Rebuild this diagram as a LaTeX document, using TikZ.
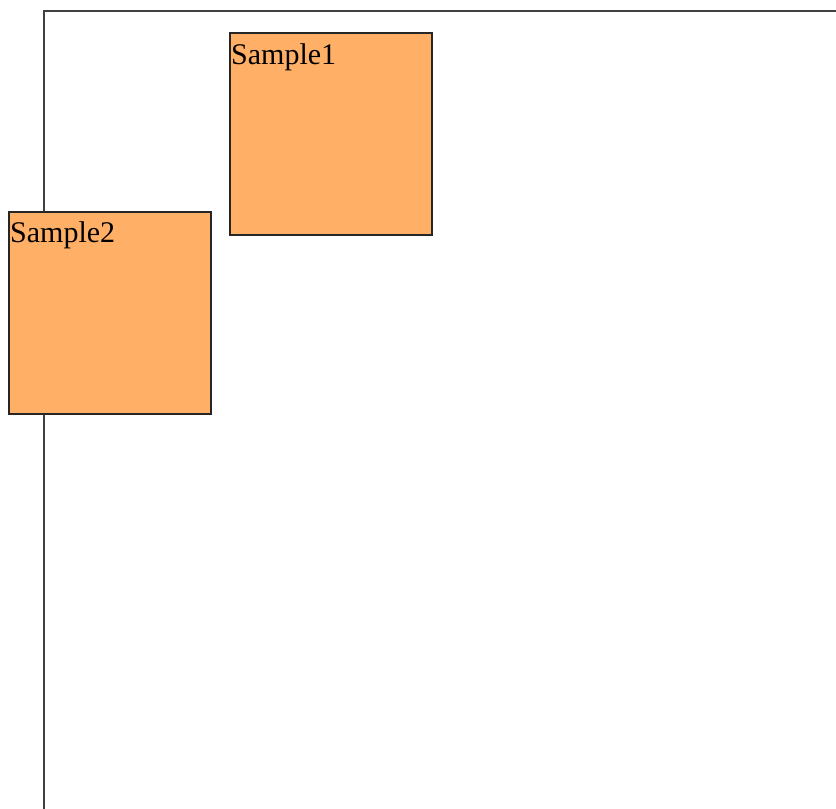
\documentclass[tikz,border=0pt]{standalone}
\usepackage{fontspec}
\setmainfont{Liberation Serif}
\usetikzlibrary{positioning}
\definecolor{SampleOrange}{HTML}{FFB066}
\definecolor{FrameGray}{HTML}{404040}

\begin{document}
\begin{tikzpicture}[x=1pt, y=-1pt,
        box/.style={rectangle, draw=black!85, line width=1.7pt, fill=SampleOrange, minimum width=202pt, minimum height=202pt, inner sep=0pt, anchor=north west},
        tag/.style={inner sep=0pt, anchor=base west, font=\fontsize{30}{32}\selectfont}]
        \useasboundingbox (0,0) rectangle (836,809);
        \coordinate (f1) at (44,809);
        \coordinate (f2) at (44,11);
        \coordinate (f3) at (836,11);
        \draw[FrameGray, line width=2.2pt] (f1) -- (f2) -- (f3);
        \node[box] (s1) at (229,32) {};
        \node[box] (s2) at (8,211) {};
        \node[tag] (t1) at ([shift={(2,32)}]s1.north west) {Sample1};
        \node[tag] (t2) at ([shift={(2,31)}]s2.north west) {Sample2};
\end{tikzpicture}
\end{document}
